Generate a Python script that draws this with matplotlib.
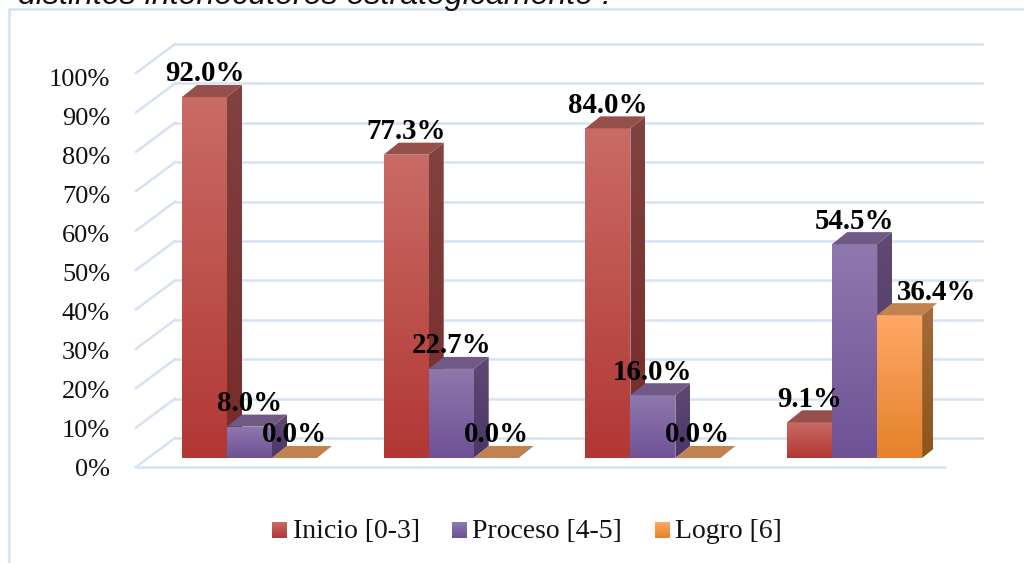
import numpy as np
import matplotlib
matplotlib.use('Agg')
import matplotlib.pyplot as plt
from matplotlib.patches import Polygon

categories = ['Grupo 1', 'Grupo 2', 'Grupo 3', 'Grupo 4']
inicio = [92.0, 77.3, 84.0, 9.1]
proceso = [8.0, 22.7, 16.0, 54.5]
logro = [0.0, 0.0, 0.0, 36.4]
series_names = ['Inicio [0-3]', 'Proceso [4-5]', 'Logro [6]']
y_ticks = [0, 10, 20, 30, 40, 50, 60, 70, 80, 90, 100]
title_text = 'distintos interlocutores estratégicamente .'

W, H = 1024, 563
GRID = '#d5e2f3'

# colours: (front top, front bottom, side top, side bottom, roof)
styles = [
    ('#c96b66', '#b23735', '#80433f', '#782a2a', '#96504c'),
    ('#8f78ae', '#6f5296', '#5e4a72', '#4b3769', '#6e5a84'),
    ('#ffa766', '#e5822a', '#a56b3c', '#8c5519', '#c1824f'),
]

fig = plt.figure(figsize=(W / 100, H / 100), dpi=100, facecolor='white')


def px_box(x0, y0, x1, y1):
    return [x0 / W, 1 - y1 / H, (x1 - x0) / W, (y1 - y0) / H]


# overlay in pixels for the frame, title and legend
over = fig.add_axes([0, 0, 1, 1], zorder=0)
over.set_xlim(0, W)
over.set_ylim(H, 0)
over.axis('off')
over.plot([8.5, 8.5, W], [H, 9, 9], color=GRID, lw=1.8, solid_joinstyle='miter')
over.text(18, 4, title_text, family='Liberation Sans', style='italic', fontsize=23.1,
          color='#111111', ha='left', va='baseline')

# main axes: x in category units, y in percent on the plane of the bars
px_per_cat = 201.7
px_per_pct = 3.924
ax = fig.add_axes(px_box(126, 458 - 100 * px_per_pct, 126 + 4 * px_per_cat, 458), zorder=1)
ax.patch.set_alpha(0)
ax.axis('off')

bar_w = 45 / px_per_cat
dx = 15 / px_per_cat
dy = 12 / px_per_pct
back_dx, back_dy = 39 / px_per_cat, 29 / px_per_pct
front_x0 = 10 / px_per_cat
front_x1 = 819 / px_per_cat
front_dy = -9 / px_per_pct
grid_scale = 1.004
label_scale = 0.994


def grad_poly(points, c_top, c_bottom, zorder):
    pts = np.array(points)
    cmap = matplotlib.colors.LinearSegmentedColormap.from_list('g', [c_top, c_bottom])
    im = ax.imshow(np.linspace(0, 1, 128).reshape(-1, 1), cmap=cmap, aspect='auto', origin='upper',
                   extent=[pts[:, 0].min(), pts[:, 0].max(), pts[:, 1].min(), pts[:, 1].max()],
                   zorder=zorder, clip_on=True)
    poly = Polygon(pts, closed=True, transform=ax.transData)
    im.set_clip_path(poly)


# grid
for v in y_ticks:
    y_front = v * grid_scale + front_dy
    y_back = y_front + back_dy
    ax.plot([front_x0, front_x0 + back_dx], [y_front, y_back], color=GRID, lw=1.8, zorder=1, clip_on=False)
    ax.plot([front_x0 + back_dx, front_x1 + back_dx - 2 / px_per_cat], [y_back, y_back], color=GRID, lw=1.8,
            zorder=1, clip_on=False)
    ax.annotate(f'{v}%', (front_x0, v * label_scale + front_dy), xytext=(-26, -3), textcoords='offset pixels',
                family='Liberation Serif', fontsize=19, color='#111111',
                ha='right', va='center', annotation_clip=False)
ax.plot([front_x0, front_x1], [front_dy, front_dy], color=GRID, lw=1.8, zorder=1, clip_on=False)

# bars
series = [inicio, proceso, logro]
z = 2
for i in range(len(categories)):
    left = i + 56 / px_per_cat
    for s, values in enumerate(series):
        v = values[i]
        x0 = left + s * bar_w
        x1 = x0 + bar_w
        front_top, front_bot, side_top, side_bot, roof = styles[s]
        if v > 0:
            grad_poly([(x1, 0), (x1 + dx, dy), (x1 + dx, v + dy), (x1, v)], side_top, side_bot, z)
            grad_poly([(x0, 0), (x1, 0), (x1, v), (x0, v)], front_top, front_bot, z + 0.1)
        ax.add_patch(Polygon([(x0, v), (x1, v), (x1 + dx, v + dy), (x0 + dx, v + dy)],
                             closed=True, facecolor=roof, edgecolor='none', zorder=z + 0.1, clip_on=False))
        z += 1

# labels sit over every bar
for i in range(len(categories)):
    left = i + 56 / px_per_cat
    for s, values in enumerate(series):
        v = values[i]
        xc = left + (s + 0.5) * bar_w
        shift = 37 if v == 36.4 else 0
        ax.annotate(f'{v:.1f}%', (xc, v), xytext=(shift, 23), textcoords='offset pixels',
                    family='Liberation Serif', weight='bold', fontsize=20.8, color='black',
                    ha='center', va='center', zorder=100, annotation_clip=False)

ax.set_xlim(0, 4)
ax.set_ylim(0, 100)

# legend
leg = fig.add_axes([0, 0, 1, 1], zorder=2)
leg.set_xlim(0, W)
leg.set_ylim(H, 0)
leg.axis('off')
for name, (sq, tx), st in zip(series_names, [(272, 293), (452, 472), (655, 675)], styles):
    cm = matplotlib.colors.LinearSegmentedColormap.from_list('l', [st[0], st[1]])
    leg.imshow(np.linspace(0, 1, 32).reshape(-1, 1), cmap=cm, aspect='auto', origin='upper',
               extent=[sq, sq + 15, 538, 522])
    leg.text(tx, 531, name, family='Liberation Serif', fontsize=20, color='#111111', ha='left', va='center')
leg.set_xlim(0, W)
leg.set_ylim(H, 0)

fig.savefig('out.png', dpi=100)
plt.close(fig)
